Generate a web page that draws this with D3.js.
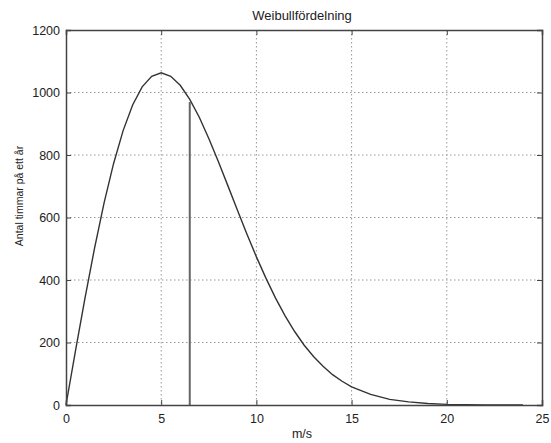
<!DOCTYPE html>
<html><head><meta charset="utf-8">
<script src="https://cdn.jsdelivr.net/npm/d3@7"></script>
<style>body{margin:0;background:#fff}svg{display:block}text{font-family:"Liberation Sans",Arial,sans-serif;fill:#222}</style>
</head><body><svg id="c" width="551" height="443"></svg>
<script>
const windSpeed = [0,0.5,1,1.5,2,2.5,3,3.5,4,4.5,5,5.5,6,6.5,7,7.5,8,8.5,9,9.5,10,10.5,11,11.5,12,12.5,13,13.5,14,14.5,15,16,17,18,19,20,21,22,23,24];
const hours = [0,174,343,502,647,773,878,960,1018,1052,1063,1052,1023,978,921,853,779,702,624,547,474,406,343,286,236,192,155,124,97,76,58,34,18,10,5,2,1,0.5,0.2,0.1];
const markerX = [6.5, 6.5];
const markerY = [0, 970];
const xTicks = [0,5,10,15,20,25];
const yTicks = [0,200,400,600,800,1000,1200];
const title = "Weibullfördelning", xLabel = "m/s", yLabel = "Antal timmar på ett år";

const svg = d3.select("#c");
const L=66,R=542,T=30,B=405;
const x = d3.scaleLinear().domain([0,25]).range([L,R]);
const y = d3.scaleLinear().domain([0,1200]).range([B,T]);

const g = svg.append("g");
g.selectAll(".gx").data(xTicks.slice(1,-1)).enter().append("line")
 .attr("x1",d=>x(d)).attr("x2",d=>x(d)).attr("y1",T).attr("y2",B)
 .attr("stroke","#999").attr("stroke-width",1).attr("stroke-dasharray","1.5,2.5");
g.selectAll(".gy").data(yTicks.slice(1,-1)).enter().append("line")
 .attr("y1",d=>y(d)).attr("y2",d=>y(d)).attr("x1",L).attr("x2",R)
 .attr("stroke","#999").attr("stroke-width",1).attr("stroke-dasharray","1.5,2.5");

svg.append("path").datum(windSpeed.map((v,i)=>[v,hours[i]]))
 .attr("d",d3.line().x(d=>x(d[0])).y(d=>y(d[1])))
 .attr("fill","none").attr("stroke","#333").attr("stroke-width",1.4);
svg.append("path").datum(markerX.map((v,i)=>[v,markerY[i]]))
 .attr("d",d3.line().x(d=>x(d[0])).y(d=>y(d[1])))
 .attr("fill","none").attr("stroke","#666").attr("stroke-width",2);

const fmt = d3.format("d");
const ax = d3.axisBottom(x).tickValues(xTicks).tickSize(-5).tickPadding(9).tickFormat(fmt);
const ay = d3.axisLeft(y).tickValues(yTicks).tickSize(-5).tickPadding(6).tickFormat(fmt);
const gx = svg.append("g").attr("transform",`translate(0,${B})`).call(ax);
const gy = svg.append("g").attr("transform",`translate(${L},0)`).call(ay);
const gxt = svg.append("g").attr("transform",`translate(0,${T})`).call(d3.axisTop(x).tickValues(xTicks).tickSize(-5).tickFormat(""));
const gyr = svg.append("g").attr("transform",`translate(${R},0)`).call(d3.axisRight(y).tickValues(yTicks).tickSize(-5).tickFormat(""));
[gx,gy,gxt,gyr].forEach(a=>{
  a.select(".domain").attr("stroke","#444").attr("stroke-width",1.5);
  a.selectAll(".tick line").attr("stroke","#444");
  a.selectAll("text").attr("font-size",12.5).attr("fill","#222").attr("font-family","Liberation Sans, Arial, sans-serif");
});

svg.append("text").attr("x",302).attr("y",20).attr("text-anchor","middle").attr("font-size",13).text(title);
svg.append("text").attr("x",302).attr("y",438).attr("text-anchor","middle").attr("font-size",12.5).text(xLabel);
svg.append("text").attr("transform",`translate(23,196) rotate(-90)`).attr("text-anchor","middle").attr("font-size",10.5).text(yLabel);
</script></body></html>
